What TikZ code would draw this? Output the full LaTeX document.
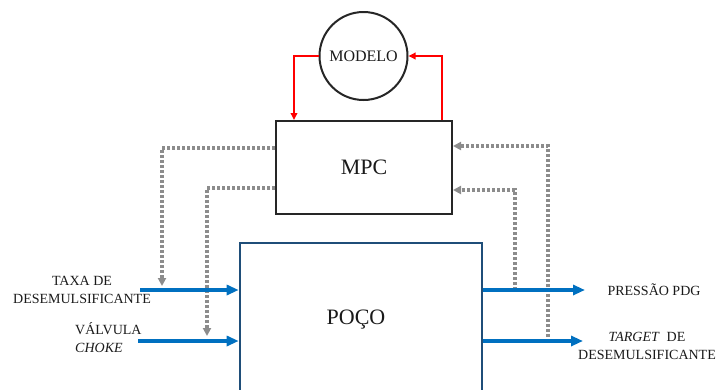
\documentclass[tikz,border=0pt]{standalone}
\usepackage{fontspec}
\setmainfont{Liberation Serif}
\usetikzlibrary{arrows.meta}
\definecolor{ablue}{HTML}{0070C0}
\definecolor{navy}{HTML}{1F4E79}
\definecolor{dgray}{HTML}{8C8C8C}
\definecolor{ared}{HTML}{FF0000}
\definecolor{txt}{HTML}{1A1A1A}
\tikzset{
  blk/.style={draw=black!85, line width=2pt, rectangle, inner sep=0pt},
  bluearrow/.style={ablue, line width=3.4pt, -{Triangle[length=12pt,width=10pt]}},
  redarrow/.style={ared, line width=1.8pt, -{Triangle[length=7pt,width=6.5pt]}},
  grayarrow/.style={dgray, line width=3.2pt, dash pattern=on 2.8pt off 2.2pt, -{Triangle[length=8pt,width=8pt]}},
  lbl/.style={text=txt, font=\fontsize{14}{18}\selectfont, inner sep=0pt},
}
\begin{document}
\begin{tikzpicture}[x=1pt,y=-1pt]
\useasboundingbox (0,0) rectangle (717,389);
\clip (0,0) rectangle (717,389);
% nodes
\node[draw=black!85, line width=2pt, circle, minimum size=88pt, inner sep=0pt,
      text=txt, font=\fontsize{16}{18}\selectfont] (modelo) at (363.5,56) {MODELO};
\node[blk, minimum width=176pt, minimum height=93pt, text=txt,
      font=\fontsize{22}{24}\selectfont] (mpc) at (364,167.5) {MPC};
\node[draw=navy, line width=2.6pt, rectangle, minimum width=242pt, minimum height=180pt,
      inner sep=0pt] (poco) at (361,333) {};
\node[text=txt, font=\fontsize{22}{24}\selectfont, inner sep=0pt] (pocolbl) at (356,320) {POÇO};
% labels
\node[lbl, align=center] (taxa) at (82,290) {TAXA DE\\DESEMULSIFICANTE};
\node[lbl, align=left, anchor=west] (valv) at (75,338) {VÁLVULA\\\textit{CHOKE}};
\node[lbl] (pdg) at (654,290) {PRESSÃO PDG};
\node[lbl, align=center] (target) at (647,346) {\textit{TARGET}\ \ DE\\DESEMULSIFICANTE};
% coordinates
\coordinate (inA) at (140,290);
\coordinate (inB) at (138,341);
\coordinate (outA) at (585,290);
\coordinate (outB) at (583,341);
% gray dotted feedback
\draw[grayarrow] ([yshift=19.5pt]mpc.west) -| (162,286);
\draw[grayarrow] ([yshift=-20.5pt]mpc.west) -| (207,336);
\draw[grayarrow] (515,290) |- ([yshift=-22.5pt]mpc.east);
\draw[grayarrow] (548,337) |- ([yshift=21.5pt]mpc.east);
% blue arrows
\draw[bluearrow] (inA) -- (inA -| poco.west);
\draw[bluearrow] (inB) -- (inB -| poco.west);
\draw[bluearrow] (outA -| poco.east) -- (outA);
\draw[bluearrow] (outB -| poco.east) -- (outB);
% red arrows
\draw[redarrow] (modelo.west) -| ([xshift=19pt]mpc.north west);
\draw[redarrow] ([xshift=-11pt]mpc.north east) |- (modelo.east);
\end{tikzpicture}
\end{document}
